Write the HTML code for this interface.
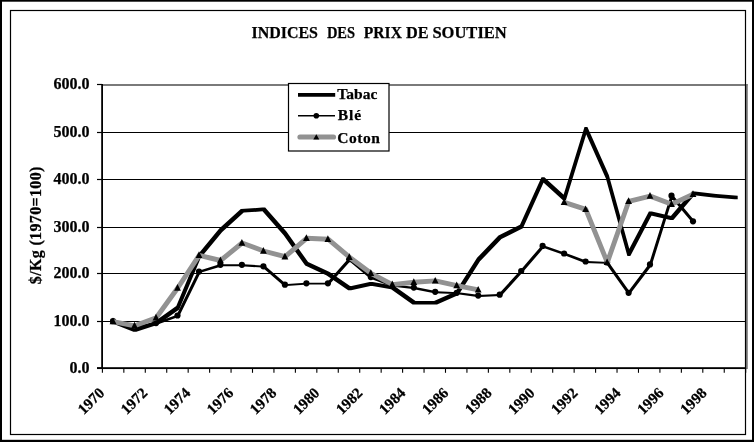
<!DOCTYPE html>
<html lang="fr">
<head>
<meta charset="utf-8">
<title>Indices des prix de soutien</title>
<style>
html,body{margin:0;padding:0;background:#fff;}
body{width:754px;height:442px;overflow:hidden;}
svg{display:block;}
text{font-family:"Liberation Serif","DejaVu Serif",serif;font-weight:bold;fill:#000;stroke:#000;stroke-width:0.25px;}
</style>
</head>
<body>
<svg width="754" height="442" viewBox="0 0 754 442">
<defs><filter id="gs" x="0" y="0" width="754" height="442" filterUnits="userSpaceOnUse" color-interpolation-filters="sRGB"><feColorMatrix type="saturate" values="0"/></filter></defs>
<rect x="0" y="0" width="754" height="442" fill="#fff"/>
<g filter="url(#gs)">
<rect x="0" y="0" width="2" height="442" fill="#000"/>
<rect x="752" y="0" width="2" height="442" fill="#000"/>
<rect x="0" y="0" width="754" height="1.7" fill="#000"/>
<rect x="0" y="439.8" width="754" height="2.2" fill="#000"/>
<rect x="103" y="84" width="644.6" height="2" fill="#7a7a7a"/>
<rect x="746" y="84" width="1.8" height="285" fill="#7a7a7a"/>
<rect x="10.5" y="10.5" width="735" height="424" fill="none" stroke="#000" stroke-width="1.2"/>
<line x1="102.3" y1="321.50" x2="745.0" y2="321.50" stroke="#000" stroke-width="1.2"/>
<line x1="102.3" y1="273.50" x2="745.0" y2="273.50" stroke="#000" stroke-width="1.2"/>
<line x1="102.3" y1="227.50" x2="745.0" y2="227.50" stroke="#000" stroke-width="1.2"/>
<line x1="102.3" y1="179.50" x2="745.0" y2="179.50" stroke="#000" stroke-width="1.2"/>
<line x1="102.3" y1="132.50" x2="745.0" y2="132.50" stroke="#000" stroke-width="1.2"/>
<rect x="101.2" y="84" width="1.8" height="285" fill="#000"/>
<rect x="97" y="367.2" width="648.5" height="1.85" fill="#000"/>
<line x1="97.0" y1="368.10" x2="102.0" y2="368.10" stroke="#000" stroke-width="1.2"/>
<line x1="97.0" y1="321.50" x2="102.0" y2="321.50" stroke="#000" stroke-width="1.2"/>
<line x1="97.0" y1="273.50" x2="102.0" y2="273.50" stroke="#000" stroke-width="1.2"/>
<line x1="97.0" y1="227.50" x2="102.0" y2="227.50" stroke="#000" stroke-width="1.2"/>
<line x1="97.0" y1="179.50" x2="102.0" y2="179.50" stroke="#000" stroke-width="1.2"/>
<line x1="97.0" y1="132.50" x2="102.0" y2="132.50" stroke="#000" stroke-width="1.2"/>
<line x1="97.0" y1="84.50" x2="102.0" y2="84.50" stroke="#000" stroke-width="1.2"/>
<line x1="102.40" y1="368.5" x2="102.40" y2="372.8" stroke="#000" stroke-width="1.1"/>
<line x1="123.84" y1="368.5" x2="123.84" y2="372.8" stroke="#000" stroke-width="1.1"/>
<line x1="145.29" y1="368.5" x2="145.29" y2="372.8" stroke="#000" stroke-width="1.1"/>
<line x1="166.73" y1="368.5" x2="166.73" y2="372.8" stroke="#000" stroke-width="1.1"/>
<line x1="188.17" y1="368.5" x2="188.17" y2="372.8" stroke="#000" stroke-width="1.1"/>
<line x1="209.62" y1="368.5" x2="209.62" y2="372.8" stroke="#000" stroke-width="1.1"/>
<line x1="231.06" y1="368.5" x2="231.06" y2="372.8" stroke="#000" stroke-width="1.1"/>
<line x1="252.50" y1="368.5" x2="252.50" y2="372.8" stroke="#000" stroke-width="1.1"/>
<line x1="273.94" y1="368.5" x2="273.94" y2="372.8" stroke="#000" stroke-width="1.1"/>
<line x1="295.39" y1="368.5" x2="295.39" y2="372.8" stroke="#000" stroke-width="1.1"/>
<line x1="316.83" y1="368.5" x2="316.83" y2="372.8" stroke="#000" stroke-width="1.1"/>
<line x1="338.27" y1="368.5" x2="338.27" y2="372.8" stroke="#000" stroke-width="1.1"/>
<line x1="359.72" y1="368.5" x2="359.72" y2="372.8" stroke="#000" stroke-width="1.1"/>
<line x1="381.16" y1="368.5" x2="381.16" y2="372.8" stroke="#000" stroke-width="1.1"/>
<line x1="402.60" y1="368.5" x2="402.60" y2="372.8" stroke="#000" stroke-width="1.1"/>
<line x1="424.05" y1="368.5" x2="424.05" y2="372.8" stroke="#000" stroke-width="1.1"/>
<line x1="445.49" y1="368.5" x2="445.49" y2="372.8" stroke="#000" stroke-width="1.1"/>
<line x1="466.93" y1="368.5" x2="466.93" y2="372.8" stroke="#000" stroke-width="1.1"/>
<line x1="488.37" y1="368.5" x2="488.37" y2="372.8" stroke="#000" stroke-width="1.1"/>
<line x1="509.82" y1="368.5" x2="509.82" y2="372.8" stroke="#000" stroke-width="1.1"/>
<line x1="531.26" y1="368.5" x2="531.26" y2="372.8" stroke="#000" stroke-width="1.1"/>
<line x1="552.70" y1="368.5" x2="552.70" y2="372.8" stroke="#000" stroke-width="1.1"/>
<line x1="574.15" y1="368.5" x2="574.15" y2="372.8" stroke="#000" stroke-width="1.1"/>
<line x1="595.59" y1="368.5" x2="595.59" y2="372.8" stroke="#000" stroke-width="1.1"/>
<line x1="617.03" y1="368.5" x2="617.03" y2="372.8" stroke="#000" stroke-width="1.1"/>
<line x1="638.48" y1="368.5" x2="638.48" y2="372.8" stroke="#000" stroke-width="1.1"/>
<line x1="659.92" y1="368.5" x2="659.92" y2="372.8" stroke="#000" stroke-width="1.1"/>
<line x1="681.36" y1="368.5" x2="681.36" y2="372.8" stroke="#000" stroke-width="1.1"/>
<line x1="702.80" y1="368.5" x2="702.80" y2="372.8" stroke="#000" stroke-width="1.1"/>
<line x1="724.25" y1="368.5" x2="724.25" y2="372.8" stroke="#000" stroke-width="1.1"/>
<line x1="745.69" y1="368.5" x2="745.69" y2="372.8" stroke="#000" stroke-width="1.1"/>
<text x="89.5" y="373.0" font-size="16" text-anchor="end">0.0</text>
<text x="89.5" y="326.4" font-size="16" text-anchor="end" textLength="36" lengthAdjust="spacing">100.0</text>
<text x="89.5" y="278.4" font-size="16" text-anchor="end" textLength="36" lengthAdjust="spacing">200.0</text>
<text x="89.5" y="232.4" font-size="16" text-anchor="end" textLength="36" lengthAdjust="spacing">300.0</text>
<text x="89.5" y="184.4" font-size="16" text-anchor="end" textLength="36" lengthAdjust="spacing">400.0</text>
<text x="89.5" y="137.4" font-size="16" text-anchor="end" textLength="36" lengthAdjust="spacing">500.0</text>
<text x="89.5" y="89.4" font-size="16" text-anchor="end" textLength="36" lengthAdjust="spacing">600.0</text>
<text transform="translate(90.9,401.0) rotate(-45)" x="0" y="5.1" font-size="15.2" text-anchor="middle">1970</text>
<text transform="translate(133.9,401.0) rotate(-45)" x="0" y="5.1" font-size="15.2" text-anchor="middle">1972</text>
<text transform="translate(177.0,401.0) rotate(-45)" x="0" y="5.1" font-size="15.2" text-anchor="middle">1974</text>
<text transform="translate(220.0,401.0) rotate(-45)" x="0" y="5.1" font-size="15.2" text-anchor="middle">1976</text>
<text transform="translate(263.0,401.0) rotate(-45)" x="0" y="5.1" font-size="15.2" text-anchor="middle">1978</text>
<text transform="translate(306.1,401.0) rotate(-45)" x="0" y="5.1" font-size="15.2" text-anchor="middle">1980</text>
<text transform="translate(349.1,401.0) rotate(-45)" x="0" y="5.1" font-size="15.2" text-anchor="middle">1982</text>
<text transform="translate(392.1,401.0) rotate(-45)" x="0" y="5.1" font-size="15.2" text-anchor="middle">1984</text>
<text transform="translate(435.1,401.0) rotate(-45)" x="0" y="5.1" font-size="15.2" text-anchor="middle">1986</text>
<text transform="translate(478.2,401.0) rotate(-45)" x="0" y="5.1" font-size="15.2" text-anchor="middle">1988</text>
<text transform="translate(521.2,401.0) rotate(-45)" x="0" y="5.1" font-size="15.2" text-anchor="middle">1990</text>
<text transform="translate(564.2,401.0) rotate(-45)" x="0" y="5.1" font-size="15.2" text-anchor="middle">1992</text>
<text transform="translate(607.3,401.0) rotate(-45)" x="0" y="5.1" font-size="15.2" text-anchor="middle">1994</text>
<text transform="translate(650.3,401.0) rotate(-45)" x="0" y="5.1" font-size="15.2" text-anchor="middle">1996</text>
<text transform="translate(693.3,401.0) rotate(-45)" x="0" y="5.1" font-size="15.2" text-anchor="middle">1998</text>
<text transform="translate(41.0,284.2) rotate(-90)" x="0" y="0" font-size="16" textLength="117.5" lengthAdjust="spacing">$/Kg (1970=100)</text>
<text x="251.5" y="37.7" font-size="17" textLength="66.5" lengthAdjust="spacingAndGlyphs">INDICES</text>
<text x="326.9" y="37.7" font-size="17" textLength="28.2" lengthAdjust="spacingAndGlyphs">DES</text>
<text x="363.8" y="37.7" font-size="17" textLength="38.1" lengthAdjust="spacingAndGlyphs">PRIX</text>
<text x="406.0" y="37.7" font-size="17" textLength="22.6" lengthAdjust="spacingAndGlyphs">DE</text>
<text x="432.4" y="37.7" font-size="17" textLength="74.4" lengthAdjust="spacingAndGlyphs">SOUTIEN</text>
<path d="M111.9 319.8 L114.8 319.8 L136.3 328.3 L136.3 331.8 L133.4 331.8 L111.9 323.3Z M133.4 328.3 L154.9 321.2 L157.8 321.2 L157.8 324.7 L136.3 331.8 L133.4 331.8Z M154.9 321.2 L176.3 306.1 L179.2 306.1 L179.2 309.6 L157.8 324.7 L154.9 324.7Z M176.3 306.1 L197.8 254.5 L200.7 254.5 L200.7 258.0 L179.2 309.6 L176.3 309.6Z M197.8 254.5 L219.3 228.5 L222.2 228.5 L222.2 232.0 L200.7 258.0 L197.8 258.0Z M219.3 228.5 L240.8 209.1 L243.7 209.1 L243.7 212.6 L222.2 232.0 L219.3 232.0Z M240.8 209.1 L262.3 207.6 L265.2 207.6 L265.2 211.1 L243.7 212.6 L240.8 212.6Z M262.3 207.6 L265.2 207.6 L286.6 231.8 L286.6 235.3 L283.7 235.3 L262.3 211.1Z M283.7 231.8 L286.6 231.8 L308.1 262.1 L308.1 265.6 L305.2 265.6 L283.7 235.3Z M305.2 262.1 L308.1 262.1 L329.6 272.0 L329.6 275.5 L326.7 275.5 L305.2 265.6Z M326.7 272.0 L329.6 272.0 L351.1 286.7 L351.1 290.2 L348.2 290.2 L326.7 275.5Z M348.2 286.7 L369.7 281.9 L372.6 281.9 L372.6 285.4 L351.1 290.2 L348.2 290.2Z M369.7 281.9 L372.6 281.9 L394.0 285.7 L394.0 289.2 L391.1 289.2 L369.7 285.4Z M391.1 285.7 L394.0 285.7 L415.5 301.1 L415.5 304.6 L412.6 304.6 L391.1 289.2Z M412.6 301.1 L437.0 301.1 L437.0 304.6 L412.6 304.6Z M434.1 301.1 L455.6 291.4 L458.5 291.4 L458.5 294.9 L437.0 304.6 L434.1 304.6Z M455.6 291.4 L477.1 257.8 L480.0 257.8 L480.0 261.3 L458.5 294.9 L455.6 294.9Z M477.1 257.8 L498.5 235.6 L501.4 235.6 L501.4 239.1 L480.0 261.3 L477.1 261.3Z M498.5 235.6 L520.0 224.7 L522.9 224.7 L522.9 228.2 L501.4 239.1 L498.5 239.1Z M520.0 224.7 L541.5 177.3 L544.4 177.3 L544.4 180.8 L522.9 228.2 L520.0 228.2Z M541.5 177.3 L544.4 177.3 L565.9 196.8 L565.9 200.2 L563.0 200.2 L541.5 180.8Z M563.0 196.8 L584.5 126.9 L587.4 126.9 L587.4 130.4 L565.9 200.2 L563.0 200.2Z M584.5 126.9 L587.4 126.9 L608.8 175.0 L608.8 178.5 L605.9 178.5 L584.5 130.4Z M605.9 175.0 L608.8 175.0 L630.3 252.6 L630.3 256.1 L627.4 256.1 L605.9 178.5Z M627.4 252.6 L648.9 211.4 L651.8 211.4 L651.8 214.9 L630.3 256.1 L627.4 256.1Z M648.9 211.4 L651.8 211.4 L673.3 216.6 L673.3 220.1 L670.4 220.1 L648.9 214.9Z M670.4 216.6 L691.9 191.5 L694.8 191.5 L694.8 195.0 L673.3 220.1 L670.4 220.1Z M691.9 191.5 L694.8 191.5 L716.2 193.9 L716.2 197.4 L713.3 197.4 L691.9 195.0Z M713.3 193.9 L716.2 193.9 L737.7 195.8 L737.7 199.3 L734.8 199.3 L713.3 197.4Z" fill="#000" fill-rule="nonzero"/>
<path d="M112.1 320.6 L114.6 320.6 L136.1 326.3 L136.1 328.2 L133.6 328.2 L112.1 322.5Z M133.6 326.3 L155.1 322.5 L157.6 322.5 L157.6 324.4 L136.1 328.2 L133.6 328.2Z M155.1 322.5 L176.5 314.9 L179.0 314.9 L179.0 316.8 L157.6 324.4 L155.1 324.4Z M176.5 314.9 L198.0 270.9 L200.5 270.9 L200.5 272.8 L179.0 316.8 L176.5 316.8Z M198.0 270.9 L219.5 264.3 L222.0 264.3 L222.0 266.2 L200.5 272.8 L198.0 272.8Z M219.5 264.3 L243.5 264.3 L243.5 266.2 L219.5 266.2Z M241.0 264.3 L243.5 264.3 L265.0 265.7 L265.0 267.6 L262.5 267.6 L241.0 266.2Z M262.5 265.7 L265.0 265.7 L286.4 284.2 L286.4 286.1 L283.9 286.1 L262.5 267.6Z M283.9 284.2 L305.4 282.8 L307.9 282.8 L307.9 284.6 L286.4 286.1 L283.9 286.1Z M305.4 282.8 L329.4 282.8 L329.4 284.6 L305.4 284.6Z M326.9 282.8 L348.4 258.6 L350.9 258.6 L350.9 260.5 L329.4 284.6 L326.9 284.6Z M348.4 258.6 L350.9 258.6 L372.4 276.6 L372.4 278.5 L369.9 278.5 L348.4 260.5Z M369.9 276.6 L372.4 276.6 L393.8 284.6 L393.8 286.5 L391.3 286.5 L369.9 278.5Z M391.3 284.6 L393.8 284.6 L415.3 287.0 L415.3 288.9 L412.8 288.9 L391.3 286.5Z M412.8 287.0 L415.3 287.0 L436.8 291.3 L436.8 293.2 L434.3 293.2 L412.8 288.9Z M434.3 291.3 L436.8 291.3 L458.3 292.2 L458.3 294.1 L455.8 294.1 L434.3 293.2Z M455.8 292.2 L458.3 292.2 L479.8 295.1 L479.8 297.0 L477.3 297.0 L455.8 294.1Z M477.3 295.1 L498.7 294.1 L501.2 294.1 L501.2 296.0 L479.8 297.0 L477.3 297.0Z M498.7 294.1 L520.2 270.4 L522.7 270.4 L522.7 272.3 L501.2 296.0 L498.7 296.0Z M520.2 270.4 L541.7 245.4 L544.2 245.4 L544.2 247.3 L522.7 272.3 L520.2 272.3Z M541.7 245.4 L544.2 245.4 L565.7 252.9 L565.7 254.8 L563.2 254.8 L541.7 247.3Z M563.2 252.9 L565.7 252.9 L587.2 261.0 L587.2 262.9 L584.7 262.9 L563.2 254.8Z M584.7 261.0 L587.2 261.0 L608.6 261.9 L608.6 263.8 L606.1 263.8 L584.7 262.9Z M606.1 261.9 L608.6 261.9 L630.1 292.2 L630.1 294.1 L627.6 294.1 L606.1 263.8Z M627.6 292.2 L649.1 263.8 L651.6 263.8 L651.6 265.7 L630.1 294.1 L627.6 294.1Z M649.1 263.8 L670.6 195.2 L673.1 195.2 L673.1 197.1 L651.6 265.7 L649.1 265.7Z M670.6 195.2 L673.1 195.2 L694.6 220.7 L694.6 222.6 L692.1 222.6 L670.6 197.1Z" fill="#000" fill-rule="nonzero"/>
<circle cx="113.0" cy="321.2" r="3.1" fill="#000"/>
<circle cx="134.5" cy="326.8" r="3.1" fill="#000"/>
<circle cx="156.0" cy="323.1" r="3.1" fill="#000"/>
<circle cx="177.5" cy="315.5" r="3.1" fill="#000"/>
<circle cx="199.0" cy="271.5" r="3.1" fill="#000"/>
<circle cx="220.4" cy="264.8" r="3.1" fill="#000"/>
<circle cx="241.9" cy="264.8" r="3.1" fill="#000"/>
<circle cx="263.4" cy="266.3" r="3.1" fill="#000"/>
<circle cx="284.9" cy="284.7" r="3.1" fill="#000"/>
<circle cx="306.4" cy="283.3" r="3.1" fill="#000"/>
<circle cx="327.9" cy="283.3" r="3.1" fill="#000"/>
<circle cx="349.3" cy="259.2" r="3.1" fill="#000"/>
<circle cx="370.8" cy="277.1" r="3.1" fill="#000"/>
<circle cx="392.3" cy="285.2" r="3.1" fill="#000"/>
<circle cx="413.8" cy="287.6" r="3.1" fill="#000"/>
<circle cx="435.2" cy="291.8" r="3.1" fill="#000"/>
<circle cx="456.7" cy="292.8" r="3.1" fill="#000"/>
<circle cx="478.2" cy="295.6" r="3.1" fill="#000"/>
<circle cx="499.7" cy="294.7" r="3.1" fill="#000"/>
<circle cx="521.2" cy="271.0" r="3.1" fill="#000"/>
<circle cx="542.6" cy="245.9" r="3.1" fill="#000"/>
<circle cx="564.1" cy="253.5" r="3.1" fill="#000"/>
<circle cx="585.6" cy="261.5" r="3.1" fill="#000"/>
<circle cx="607.1" cy="262.5" r="3.1" fill="#000"/>
<circle cx="628.6" cy="292.8" r="3.1" fill="#000"/>
<circle cx="650.0" cy="264.4" r="3.1" fill="#000"/>
<circle cx="671.5" cy="195.7" r="3.1" fill="#000"/>
<circle cx="693.0" cy="221.3" r="3.1" fill="#000"/>
<polyline points="113.2,321.6 134.7,325.8 156.2,317.8 177.7,288.0 199.2,255.3 220.6,260.5 242.1,243.0 263.6,251.0 285.1,256.7 306.6,238.3 328.1,239.2 349.5,257.2 371.0,273.3 392.5,284.6 414.0,282.3 435.4,280.9 456.9,285.6 478.4,289.9" fill="none" stroke="#929292" stroke-width="4.90" stroke-linejoin="round" stroke-linecap="butt"/>
<polyline points="564.3,202.3 585.8,209.4 607.3,262.4 628.8,201.3 650.2,196.1 671.7,204.2 693.2,194.2" fill="none" stroke="#929292" stroke-width="4.90" stroke-linejoin="round" stroke-linecap="butt"/>
<polygon points="113.0,317.6 109.6,324.3 116.5,324.3" fill="#000"/>
<polygon points="134.5,321.8 131.1,328.5 137.9,328.5" fill="#000"/>
<polygon points="156.0,313.8 152.6,320.5 159.4,320.5" fill="#000"/>
<polygon points="177.5,284.0 174.1,290.7 180.9,290.7" fill="#000"/>
<polygon points="199.0,251.3 195.6,258.0 202.4,258.0" fill="#000"/>
<polygon points="220.4,256.5 217.0,263.2 223.8,263.2" fill="#000"/>
<polygon points="241.9,239.0 238.5,245.7 245.3,245.7" fill="#000"/>
<polygon points="263.4,247.0 260.0,253.7 266.8,253.7" fill="#000"/>
<polygon points="284.9,252.7 281.5,259.4 288.3,259.4" fill="#000"/>
<polygon points="306.4,234.3 303.0,241.0 309.8,241.0" fill="#000"/>
<polygon points="327.9,235.2 324.5,241.9 331.2,241.9" fill="#000"/>
<polygon points="349.3,253.2 345.9,259.9 352.7,259.9" fill="#000"/>
<polygon points="370.8,269.3 367.4,276.0 374.2,276.0" fill="#000"/>
<polygon points="392.3,280.6 388.9,287.3 395.7,287.3" fill="#000"/>
<polygon points="413.8,278.3 410.4,285.0 417.2,285.0" fill="#000"/>
<polygon points="435.2,276.9 431.9,283.6 438.6,283.6" fill="#000"/>
<polygon points="456.7,281.6 453.3,288.3 460.1,288.3" fill="#000"/>
<polygon points="478.2,285.9 474.8,292.6 481.6,292.6" fill="#000"/>
<polygon points="564.1,198.3 560.7,205.0 567.5,205.0" fill="#000"/>
<polygon points="585.6,205.4 582.2,212.1 589.0,212.1" fill="#000"/>
<polygon points="607.1,258.4 603.7,265.1 610.5,265.1" fill="#000"/>
<polygon points="628.6,197.3 625.2,204.0 632.0,204.0" fill="#000"/>
<polygon points="650.0,192.1 646.6,198.8 653.4,198.8" fill="#000"/>
<polygon points="671.5,200.2 668.1,206.9 674.9,206.9" fill="#000"/>
<polygon points="693.0,190.2 689.6,196.9 696.4,196.9" fill="#000"/>
<rect x="288.5" y="83.5" width="100.5" height="67.5" fill="#fff" stroke="#000" stroke-width="1.2"/>
<line x1="298" y1="94.9" x2="335.2" y2="94.9" stroke="#000" stroke-width="3.7"/>
<text x="337.3" y="98.9" font-size="15.5" textLength="40" lengthAdjust="spacing">Tabac</text>
<line x1="298" y1="115.8" x2="335" y2="115.8" stroke="#000" stroke-width="1.6"/>
<circle cx="316.3" cy="115.8" r="2.8" fill="#000"/>
<text x="337.8" y="119.9" font-size="15.5" textLength="23.4" lengthAdjust="spacing">Blé</text>
<line x1="300" y1="137" x2="333.5" y2="137" stroke="#929292" stroke-width="5.2" stroke-linecap="round"/>
<polygon points="316.3,134.2 313.3,139.4 319.3,139.4" fill="#000"/>
<text x="337.3" y="142.5" font-size="15.5" textLength="42.5" lengthAdjust="spacing">Coton</text>
</g>
</svg>
</body>
</html>
